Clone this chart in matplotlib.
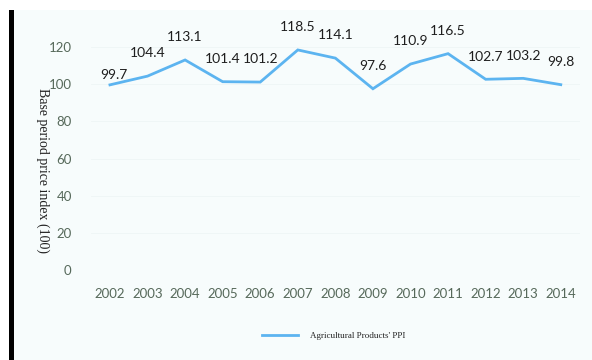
import matplotlib
matplotlib.use("Agg")
import matplotlib.pyplot as plt
from matplotlib.patches import Rectangle

years = [2002, 2003, 2004, 2005, 2006, 2007, 2008, 2009, 2010, 2011, 2012, 2013, 2014]
ppi = [99.7, 104.4, 113.1, 101.4, 101.2, 118.5, 114.1, 97.6, 110.9, 116.5, 102.7, 103.2, 99.8]
yticks = [0, 20, 40, 60, 80, 100, 120]
series_name = "Agricultural Products' PPI"
ylabel = "Base period price index (100)"

W, H = 592, 360
fig = plt.figure(figsize=(W / 100, H / 100), dpi=100)
fig.patch.set_facecolor("white")
fig.patches.append(Rectangle((14 / W, 0), 1 - 14 / W, 1 - 10 / H, transform=fig.transFigure,
                             facecolor="#f7fcfc", edgecolor="none", zorder=-2))
fig.patches.append(Rectangle((9 / W, 0), 5 / W, 1 - 10 / H, transform=fig.transFigure,
                             facecolor="black", edgecolor="none", zorder=-1))

ax = fig.add_axes([0.154, 0.25, 0.825, 0.6706])
ax.set_facecolor("none")
line, = ax.plot(years, ppi, color="#5cb4f0", lw=2, solid_joinstyle="miter")
ax.set_xlim(2001.5, 2014.5)
ax.set_ylim(0, 130)
ax.set_yticks(yticks)
ax.set_xticks(years)
for s in ax.spines.values():
    s.set_visible(False)
ax.tick_params(length=0, labelsize=9.5, labelcolor="#56695a")
for lab in ax.get_xticklabels() + ax.get_yticklabels():
    lab.set_family("Lato")
ax.tick_params(axis="x", pad=13)
ax.tick_params(axis="y", pad=14)
for y in yticks[1:]:
    ax.axhline(y, color="#eef5f5", lw=0.6, zorder=0)

# label offsets (points): first label sits closer to its point
for i, (x, v) in enumerate(zip(years, ppi)):
    dx, dy = (3, 3) if i == 0 else (0, 12)
    ax.annotate(f"{v}", (x, v), xytext=(dx, dy), textcoords="offset points",
                ha="center", va="bottom", fontsize=10, color="#1e1e1e", family="Lato")

fig.text(43 / W, 1 - 171 / H, ylabel, rotation=-90, ha="center", va="center",
         fontsize=10, family="Liberation Serif", color="#222222")

fig.legend([line], [series_name], loc="center", bbox_to_anchor=(334 / W, 1 - 336 / H),
           frameon=False, handlelength=3.9, handletextpad=1.4,
           prop={"family": "Liberation Serif", "size": 6.5}, labelcolor="#222222")

fig.savefig("out.png", dpi=100, facecolor=fig.get_facecolor())
